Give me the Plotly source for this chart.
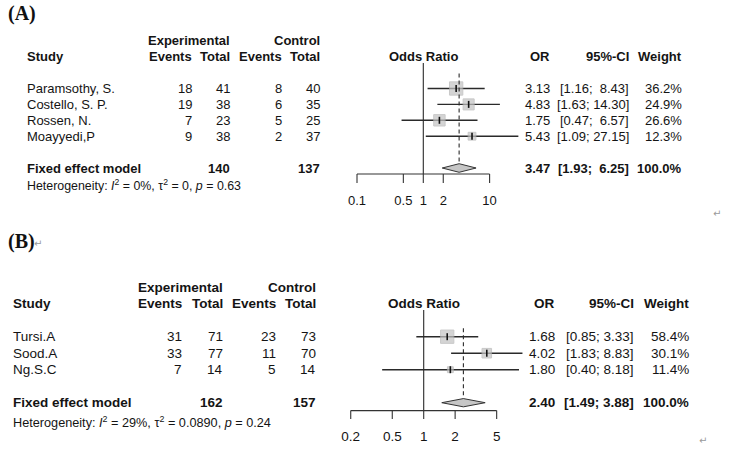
import math
import plotly.graph_objects as go

W, H = 729, 450
NB = "\u00a0"

# ---------------- Panel A data ----------------
a_studies = ["Paramsothy, S.", "Costello, S. P.", "Rossen, N.", "Moayyedi,P"]
a_exp_events = [18, 19, 7, 9]
a_exp_total = [41, 38, 23, 38]
a_ctl_events = [8, 6, 5, 2]
a_ctl_total = [40, 35, 25, 37]
a_or = [3.13, 4.83, 1.75, 5.43]
a_lo = [1.16, 1.63, 0.47, 1.09]
a_hi = [8.43, 14.30, 6.57, 27.15]
a_weight = [36.2, 24.9, 26.6, 12.3]
a_pool = [3.47, 1.93, 6.25, 100.0]          # OR, lower, upper, weight
a_totals = [140, 137]                        # experimental, control
a_het = ["0%", "0", "0.63"]                  # I2, tau2, p
a_ticks = [0.1, 0.5, 1, 2, 10]
a_ticklabels = ["0.1", "0.5", "1", "2", "10"]

# ---------------- Panel B data ----------------
b_studies = ["Tursi.A", "Sood.A", "Ng.S.C"]
b_exp_events = [31, 33, 7]
b_exp_total = [71, 77, 14]
b_ctl_events = [23, 11, 5]
b_ctl_total = [73, 70, 14]
b_or = [1.68, 4.02, 1.80]
b_lo = [0.85, 1.83, 0.40]
b_hi = [3.33, 8.83, 8.18]
b_weight = [58.4, 30.1, 11.4]
b_pool = [2.40, 1.49, 3.88, 100.0]
b_totals = [162, 157]
b_het = ["29%", "0.0890", "0.24"]
b_ticks = [0.2, 0.5, 1, 2, 5]
b_ticklabels = ["0.2", "0.5", "1", "2", "5"]

# ---------------- styles / layout constants ----------------
styles = [
    dict(tag="(A)", tag_xy=(7, 14), ret_xy=(716.7, 213), ydom=(0.5, 1.0), y0px=0, y1px=225,
         row_px=88.5, step=15.9, cx=423.3, ppd=66.3, fs=13, hfs=12.4,
         cols=dict(study=26, ee=193.3, et=230.7, ce=282.7, ct=321.3, orr=550.7, ci=630, w=682.7),
         pooled=6, het=7.1, axis=6.38, tick_end=6.94, lab=8.14, solid_top=-0.6, dash_top=0.05,
         dh=0.27, sq=13.3, xa="x", ya="y"),
    dict(tag="(B)", tag_xy=(7, 241.7), ret_xy=(703, 440), ydom=(0.0, 0.5), y0px=225, y1px=450,
         row_px=336.7, step=16.5, cx=423.7, ppd=104.4, fs=13.5, hfs=12.7,
         cols=dict(study=11.7, ee=183.3, et=224, ce=277.3, ct=317.3, orr=556, ci=635, w=690),
         pooled=5, het=6.15, axis=5.48, tick_end=5.99, lab=7.12, solid_top=-0.62, dash_top=0.49,
         dh=0.25, sq=13.3, xa="x2", ya="y2"),
]

panels = [
    dict(studies=a_studies, ee=a_exp_events, et=a_exp_total, ce=a_ctl_events, ct=a_ctl_total,
         orv=a_or, lo=a_lo, hi=a_hi, w=a_weight, pool=a_pool, totals=a_totals, het=a_het,
         ticks=a_ticks, ticklabels=a_ticklabels),
    dict(studies=b_studies, ee=b_exp_events, et=b_exp_total, ce=b_ctl_events, ct=b_ctl_total,
         orv=b_or, lo=b_lo, hi=b_hi, w=b_weight, pool=b_pool, totals=b_totals, het=b_het,
         ticks=b_ticks, ticklabels=b_ticklabels),
]

FONT = "Liberation Sans, Arial, sans-serif"
TXT = "#141414"
LINE = "#2a2a2a"

fig = go.Figure()
annotations = []


def px(xp):
    return xp / W


def ann(text, xpx, y, yref, anchor="right", size=13, bold=False, color=TXT, family=FONT):
    if bold:
        text = "<b>" + text + "</b>"
    annotations.append(dict(text=text, x=px(xpx), xref="paper", y=y, yref=yref,
                            xanchor=anchor, yanchor="middle", showarrow=False, borderpad=0,
                            font=dict(family=family, size=size, color=color)))


layout_axes = {}

for k, (d, s) in enumerate(zip(panels, styles)):
    xa, ya = s["xa"], s["ya"]
    xname = "xaxis" if k == 0 else "xaxis2"
    yname = "yaxis" if k == 0 else "yaxis2"
    # axis ranges so that rows / log values land at the intended pixels
    xr = [(0 - s["cx"]) / s["ppd"], (W - s["cx"]) / s["ppd"]]
    ytop = 1 + (s["y0px"] - s["row_px"]) / s["step"]
    ybot = 1 + (s["y1px"] - s["row_px"]) / s["step"]
    layout_axes[xname] = dict(type="log", range=xr, domain=[0, 1], visible=False, anchor=ya, fixedrange=True)
    layout_axes[yname] = dict(range=[ybot, ytop], domain=list(s["ydom"]), visible=False, anchor=xa, fixedrange=True)

    n = len(d["studies"])
    rows = list(range(1, n + 1))
    fs = s["fs"]
    c = s["cols"]

    # ---------- left table ----------
    ann("Experimental", c["et"], -2, ya, size=fs, bold=True)
    ann("Control", c["ct"], -2, ya, size=fs, bold=True)
    ann("Study", c["study"], -1, ya, anchor="left", size=fs, bold=True)
    for key, lbl in (("ee", "Events"), ("et", "Total"), ("ce", "Events"), ("ct", "Total")):
        ann(lbl, c[key], -1, ya, size=fs, bold=True)
    for i, r in enumerate(rows):
        ann(d["studies"][i], c["study"], r, ya, anchor="left", size=fs)
        ann(str(d["ee"][i]), c["ee"], r, ya, size=fs)
        ann(str(d["et"][i]), c["et"], r, ya, size=fs)
        ann(str(d["ce"][i]), c["ce"], r, ya, size=fs)
        ann(str(d["ct"][i]), c["ct"], r, ya, size=fs)
    pr = s["pooled"]
    ann("Fixed effect model", c["study"], pr, ya, anchor="left", size=fs, bold=True)
    ann(str(d["totals"][0]), c["et"], pr, ya, size=fs, bold=True)
    ann(str(d["totals"][1]), c["ct"], pr, ya, size=fs, bold=True)
    i2, t2, pv = d["het"]
    het = ("Heterogeneity: <i>I</i><sup>2</sup> = %s, \u03c4<sup>2</sup> = %s, <i>p</i> = %s" % (i2, t2, pv))
    ann(het, c["study"], s["het"], ya, anchor="left", size=s["hfs"])

    # ---------- right table ----------
    ann("Odds Ratio", s["cx"], -1, ya, anchor="center", size=fs, bold=True)
    ann("OR", c["orr"], -1, ya, size=fs, bold=True)
    ann("95%-CI", c["ci"], -1, ya, size=fs, bold=True)
    ann("Weight", c["w"], -1, ya, size=fs, bold=True)
    all_lo = d["lo"] + [d["pool"][1]]
    all_hi = d["hi"] + [d["pool"][2]]
    wl = max(len("%.2f" % v) for v in all_lo)
    wh = max(len("%.2f" % v) for v in all_hi)

    def ci_text(lo, hi):
        ls = "%.2f" % lo
        hs = "%.2f" % hi
        return "[" + NB * (wl - len(ls)) + ls + ";" + NB + NB * (wh - len(hs)) + hs + "]"

    for i, r in enumerate(rows):
        ann("%.2f" % d["orv"][i], c["orr"], r, ya, size=fs)
        ann(ci_text(d["lo"][i], d["hi"][i]), c["ci"], r, ya, size=fs)
        ann("%.1f%%" % d["w"][i], c["w"], r, ya, size=fs)
    p_or, p_lo, p_hi, p_w = d["pool"]
    ann("%.2f" % p_or, c["orr"], pr, ya, size=fs, bold=True)
    ann(ci_text(p_lo, p_hi), c["ci"], pr, ya, size=fs, bold=True)
    ann("%.1f%%" % p_w, c["w"], pr, ya, size=fs, bold=True)

    # ---------- forest marks ----------
    cx_, cy_ = [], []
    for i, r in enumerate(rows):
        cx_ += [d["lo"][i], d["hi"][i], None]
        cy_ += [r, r, None]
    fig.add_trace(go.Scatter(x=cx_, y=cy_, mode="lines", xaxis=xa, yaxis=ya,
                             line=dict(color=LINE, width=1.4), hoverinfo="skip"))
    wmax = max(d["w"])
    sizes = [s["sq"] * math.sqrt(w / wmax) for w in d["w"]]
    fig.add_trace(go.Scatter(x=d["orv"], y=rows, mode="markers", xaxis=xa, yaxis=ya,
                             marker=dict(symbol="square", size=sizes, color="#c3c3c3",
                                         line=dict(color="#b3b3b3", width=1)),
                             hoverinfo="skip"))
    # reference line at OR = 1
    fig.add_trace(go.Scatter(x=[1, 1], y=[s["solid_top"], s["axis"]], mode="lines", xaxis=xa, yaxis=ya,
                             line=dict(color=LINE, width=1.1), hoverinfo="skip"))
    # dashed pooled line
    fig.add_trace(go.Scatter(x=[p_or, p_or], y=[s["dash_top"], pr - s["dh"]], mode="lines",
                             xaxis=xa, yaxis=ya, line=dict(color=LINE, width=1.1, dash="4px,3px"),
                             hoverinfo="skip"))
    # centre ticks
    fig.add_trace(go.Scatter(x=d["orv"], y=rows, mode="markers", xaxis=xa, yaxis=ya,
                             marker=dict(symbol="line-ns", size=5, line=dict(color="#111", width=1.6)),
                             hoverinfo="skip"))
    # diamond
    fig.add_trace(go.Scatter(x=[p_lo, p_or, p_hi, p_or, p_lo],
                             y=[pr, pr - s["dh"], pr, pr + s["dh"], pr],
                             mode="lines", fill="toself", fillcolor="#c6c6c6", xaxis=xa, yaxis=ya,
                             line=dict(color="#333", width=1), hoverinfo="skip"))
    # axis line and ticks
    t = d["ticks"]
    ax_x = [t[0], t[-1], None]
    ax_y = [s["axis"], s["axis"], None]
    for tv in t:
        ax_x += [tv, tv, None]
        ax_y += [s["axis"], s["tick_end"], None]
    fig.add_trace(go.Scatter(x=ax_x, y=ax_y, mode="lines", xaxis=xa, yaxis=ya,
                             line=dict(color="#333", width=1.1), hoverinfo="skip"))
    fig.add_trace(go.Scatter(x=t, y=[s["lab"]] * len(t), text=d["ticklabels"], mode="text",
                             textposition="middle center", xaxis=xa, yaxis=ya, cliponaxis=False,
                             textfont=dict(family=FONT, size=fs, color=TXT), hoverinfo="skip"))

    # panel tag and return marks
    tx, ty = s["tag_xy"]
    annotations.append(dict(text="<b>%s</b>" % s["tag"], x=px(tx), xref="paper",
                            y=1 - ty / H, yref="paper", xanchor="left", yanchor="middle",
                            showarrow=False, borderpad=0,
                            font=dict(family="Liberation Serif, Times New Roman, serif", size=20, color="#111")))
    rx, ry = s["ret_xy"]
    annotations.append(dict(text="\u21b5", x=px(rx), xref="paper", y=1 - ry / H, yref="paper",
                            xanchor="center", yanchor="middle", showarrow=False,
                            font=dict(family="DejaVu Sans", size=10, color="#9a9a9a")))

annotations.append(dict(text="\u21b5", x=px(37.7), xref="paper", y=1 - 243 / H, yref="paper",
                        xanchor="center", yanchor="middle", showarrow=False,
                        font=dict(family="DejaVu Sans", size=10, color="#9a9a9a")))

fig.update_layout(width=W, height=H, margin=dict(l=0, r=0, t=0, b=0), autosize=False,
                  paper_bgcolor="white", plot_bgcolor="white", showlegend=False,
                  annotations=annotations, **layout_axes)

fig.write_html("out.html", config={"displayModeBar": False},
               post_script="document.body.style.margin='0';document.body.style.overflow='hidden';")
